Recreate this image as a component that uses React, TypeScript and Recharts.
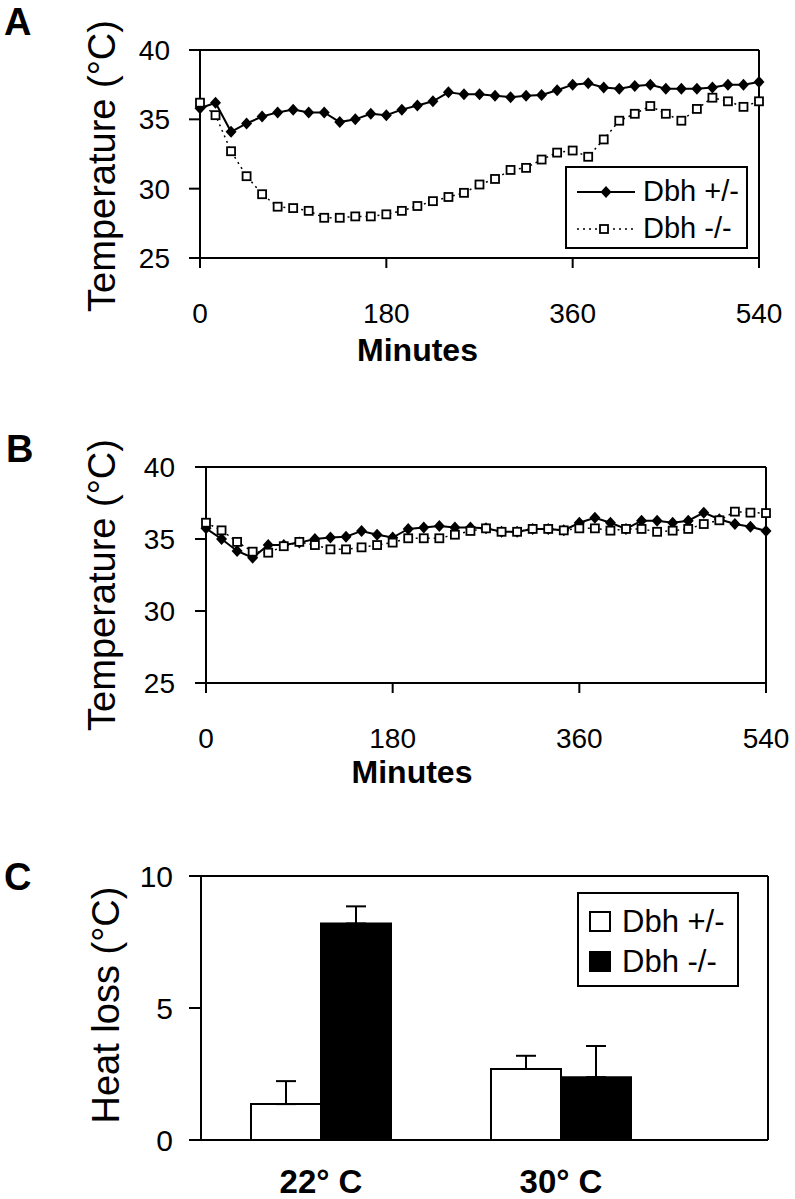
import { LineChart, Line, XAxis, YAxis, ReferenceLine, Legend, BarChart, Bar, ErrorBar, CartesianGrid } from 'recharts'

// time points (minutes), shared by panels A and B
const minutes = [0, 15, 30, 45, 60, 75, 90, 105, 120, 135, 150, 165, 180, 195, 210, 225, 240, 255, 270,
  285, 300, 315, 330, 345, 360, 375, 390, 405, 420, 435, 450, 465, 480, 495, 510, 525, 540]

// panel A (22 C)
const hetA = [35.8, 36.2, 34.1, 34.7, 35.2, 35.5, 35.7, 35.5, 35.5, 34.8, 35.0, 35.4, 35.3, 35.7, 36.0, 36.3, 36.95, 36.8, 36.8,
  36.7, 36.6, 36.7, 36.75, 37.1, 37.5, 37.6, 37.3, 37.2, 37.4, 37.5, 37.2, 37.2, 37.2, 37.3, 37.5, 37.5, 37.7]
const koA = [36.2, 35.3, 32.7, 30.9, 29.6, 28.7, 28.6, 28.4, 27.9, 27.9, 28.0, 28.0, 28.15, 28.4, 28.75, 29.1, 29.4, 29.7, 30.3,
  30.7, 31.35, 31.5, 32.1, 32.6, 32.75, 32.3, 33.55, 34.9, 35.4, 35.96, 35.4, 34.9, 35.75, 36.56, 36.3, 35.9, 36.3]

// panel B (30 C)
const hetB = [35.74, 35.0, 34.17, 33.7, 34.58, 34.58, 34.75, 35.0, 35.1, 35.16, 35.56, 35.3, 35.1, 35.7, 35.8, 35.9, 35.8, 35.8, 35.74,
  35.5, 35.5, 35.7, 35.7, 35.6, 36.13, 36.48, 36.13, 35.7, 36.27, 36.27, 36.13, 36.27, 36.83, 36.37, 36.04, 35.85, 35.56]
const koB = [36.13, 35.6, 34.8, 34.12, 34.05, 34.5, 34.8, 34.58, 34.28, 34.28, 34.42, 34.58, 34.75, 35.05, 35.05, 35.05, 35.3, 35.56, 35.74,
  35.5, 35.5, 35.7, 35.7, 35.6, 35.74, 35.74, 35.58, 35.7, 35.7, 35.5, 35.58, 35.7, 36.04, 36.3, 36.9, 36.83, 36.8]

const minuteTicks = [0, 180, 360, 540]
const tempTicks = [25, 30, 35, 40]

// panel C
const conditions = ['22° C', '30° C']
const lossHet = [1.36, 2.69]
const lossHetErr = [0.87, 0.5]
const lossKo = [8.2, 2.38]
const lossKoErr = [0.65, 1.18]
const lossTicks = [0, 5, 10]

const FONT = "'Liberation Sans', Arial, Helvetica, sans-serif"

const dataA = minutes.map((t, i) => ({ t, het: hetA[i], ko: koA[i] }))
const dataB = minutes.map((t, i) => ({ t, het: hetB[i], ko: koB[i] }))
const dataC = conditions.map((c, i) => ({
  cond: c,
  het: lossHet[i],
  hetErr: [0, lossHetErr[i]],
  ko: lossKo[i],
  koErr: [0, lossKoErr[i]],
}))

function Diamond(props: any) {
  const { cx, cy } = props
  if (cx == null || cy == null) return null
  return <polygon points={`${cx},${cy - 6} ${cx + 5.5},${cy} ${cx},${cy + 6} ${cx - 5.5},${cy}`} fill="#000" />
}

function Square(props: any) {
  const { cx, cy } = props
  if (cx == null || cy == null) return null
  return <rect x={cx - 4} y={cy - 4} width={8} height={8} fill="#fff" stroke="#000" strokeWidth={1.8} />
}

function LineLegend({ payload }: any) {
  return (
    <div style={{ width: 183, height: 83, border: '2px solid #000', boxSizing: 'border-box', background: '#fff', paddingTop: 5 }}>
      {(payload || []).map((p: any, i: number) => (
        <div key={p.value} style={{ display: 'flex', alignItems: 'center', height: 37 }}>
          <svg width={76} height={30} style={{ flex: 'none' }}>
            {i === 0 ? (
              <>
                <line x1={10} y1={15} x2={68} y2={15} stroke="#000" strokeWidth={2} />
                <Diamond cx={39} cy={15} />
              </>
            ) : (
              <>
                <line x1={10} y1={15} x2={68} y2={15} stroke="#000" strokeWidth={1.5} strokeDasharray="2 4" />
                <Square cx={37} cy={15} />
              </>
            )}
          </svg>
          <span style={{ fontSize: 29, color: '#000', lineHeight: 1 }}>{p.value}</span>
        </div>
      ))}
    </div>
  )
}

function BarLegend({ payload }: any) {
  return (
    <div style={{ width: 162, height: 95, border: '2px solid #000', boxSizing: 'border-box', background: '#fff', paddingTop: 7 }}>
      {(payload || []).map((p: any, i: number) => (
        <div key={p.value} style={{ display: 'flex', alignItems: 'center', height: 40 }}>
          <div style={{
            width: 22, height: 21, marginLeft: 10, marginRight: 11, boxSizing: 'border-box',
            border: '2px solid #000', background: i === 0 ? '#fff' : '#000',
          }} />
          <span style={{ fontSize: 31, color: '#000', lineHeight: 1 }}>{p.value}</span>
        </div>
      ))}
    </div>
  )
}

function TempPanel({ data, top, plotTop, plotLeft, plotRight, plotBottom, height, minutesDx, minutesOffset, tickMargin, yTickMargin, labelDy, legend }: any) {
  return (
    <div style={{ position: 'absolute', left: 0, top }}>
      <LineChart width={795} height={height} data={data}
        margin={{ top: plotTop, right: 795 - plotRight, left: 0, bottom: 0 }}>
        <XAxis dataKey="t" type="number" domain={[0, 540]} ticks={minuteTicks} height={height - plotBottom}
          axisLine={{ stroke: '#000', strokeWidth: 2 }} tickLine={{ stroke: '#000', strokeWidth: 2 }} tickSize={10} tickMargin={tickMargin}
          tick={{ fill: '#000', fontSize: 28 }}
          label={{ value: 'Minutes', position: 'insideBottom', offset: minutesOffset, dx: minutesDx, style: { fill: '#000', fontSize: 32, fontWeight: 'bold' } }} />
        <YAxis type="number" domain={[25, 40]} ticks={tempTicks} width={plotLeft}
          axisLine={{ stroke: '#000', strokeWidth: 2 }} tickLine={{ stroke: '#000', strokeWidth: 2 }} tickSize={11} tickMargin={yTickMargin}
          tick={{ fill: '#000', fontSize: 28 }}
          label={{ value: 'Temperature (°C)', angle: -90, position: 'insideLeft', offset: 102, dy: labelDy, style: { textAnchor: 'middle', fill: '#000', fontSize: 38 } }} />
        <ReferenceLine y={40} stroke="#000" strokeWidth={2} />
        <ReferenceLine x={540} stroke="#000" strokeWidth={2} />
        {legend && (
          <Legend layout="vertical" align="center" verticalAlign="middle" content={<LineLegend />}
            wrapperStyle={{ left: 565, top: 166, width: 183 }} />
        )}
        <Line dataKey="het" name="Dbh +/-" stroke="#000" strokeWidth={2} dot={<Diamond />} activeDot={false} isAnimationActive={false} />
        <Line dataKey="ko" name="Dbh -/-" stroke="#000" strokeWidth={1.5} strokeDasharray="2 4" dot={<Square />} activeDot={false} isAnimationActive={false} />
      </LineChart>
    </div>
  )
}

export default function App() {
  return (
    <div style={{ position: 'relative', width: 795, height: 1199, background: '#fff', overflow: 'hidden', fontFamily: FONT }}>
      <style>{'body{margin:0}'}</style>

      <div style={{ position: 'absolute', left: 4, top: 3, fontSize: 38, fontWeight: 'bold', lineHeight: 1 }}>A</div>
      <div style={{ position: 'absolute', left: 6, top: 430, fontSize: 38, fontWeight: 'bold', lineHeight: 1 }}>B</div>
      <div style={{ position: 'absolute', left: 4, top: 858, fontSize: 38, fontWeight: 'bold', lineHeight: 1 }}>C</div>

      <TempPanel data={dataA} top={0} height={380} plotTop={50} plotLeft={200} plotRight={759} plotBottom={258}
        minutesDx={-62} minutesOffset={19} tickMargin={35} yTickMargin={19} labelDy={12} legend />

      <TempPanel data={dataB} top={400} height={400} plotTop={67} plotLeft={206} plotRight={766} plotBottom={283}
        minutesDx={-74} minutesOffset={17} tickMargin={35} yTickMargin={20} labelDy={10} legend={false} />

      <div style={{ position: 'absolute', left: 0, top: 780 }}>
        <BarChart width={795} height={419} data={dataC} barCategoryGap={50} barGap={0}
          margin={{ top: 96, right: 27, left: 0, bottom: 0 }}>
          {/* frame: top and right edges of the plot area */}
          <CartesianGrid stroke="#000" strokeWidth={2}
            horizontalCoordinatesGenerator={({ offset }: any) => [offset.top]}
            verticalCoordinatesGenerator={({ offset }: any) => [offset.left + offset.width]} />
          <XAxis dataKey="cond" height={59} padding={{ left: 0, right: 87 }}
            axisLine={{ stroke: '#000', strokeWidth: 2 }} tickLine={false} tickSize={0} tickMargin={30}
            tick={{ fill: '#000', fontSize: 33, fontWeight: 'bold' }} />
          <YAxis type="number" domain={[0, 10]} ticks={lossTicks} width={201}
            axisLine={{ stroke: '#000', strokeWidth: 2 }} tickLine={{ stroke: '#000', strokeWidth: 2 }} tickSize={12} tickMargin={16}
            tick={{ fill: '#000', fontSize: 30 }}
            label={{ value: 'Heat loss (°C)', angle: -90, position: 'insideLeft', offset: 106, dy: -3, style: { textAnchor: 'middle', fill: '#000', fontSize: 38 } }} />
          <Legend layout="vertical" align="center" verticalAlign="middle" content={<BarLegend />}
            wrapperStyle={{ left: 577, top: 112, width: 162 }} />
          <Bar dataKey="het" name="Dbh +/-" fill="#fff" stroke="#000" strokeWidth={2} isAnimationActive={false}>
            <ErrorBar dataKey="hetErr" direction="y" width={10} stroke="#000" strokeWidth={2} />
          </Bar>
          <Bar dataKey="ko" name="Dbh -/-" fill="#000" stroke="#000" strokeWidth={2} isAnimationActive={false}>
            <ErrorBar dataKey="koErr" direction="y" width={10} stroke="#000" strokeWidth={2} />
          </Bar>
        </BarChart>
      </div>
    </div>
  )
}
